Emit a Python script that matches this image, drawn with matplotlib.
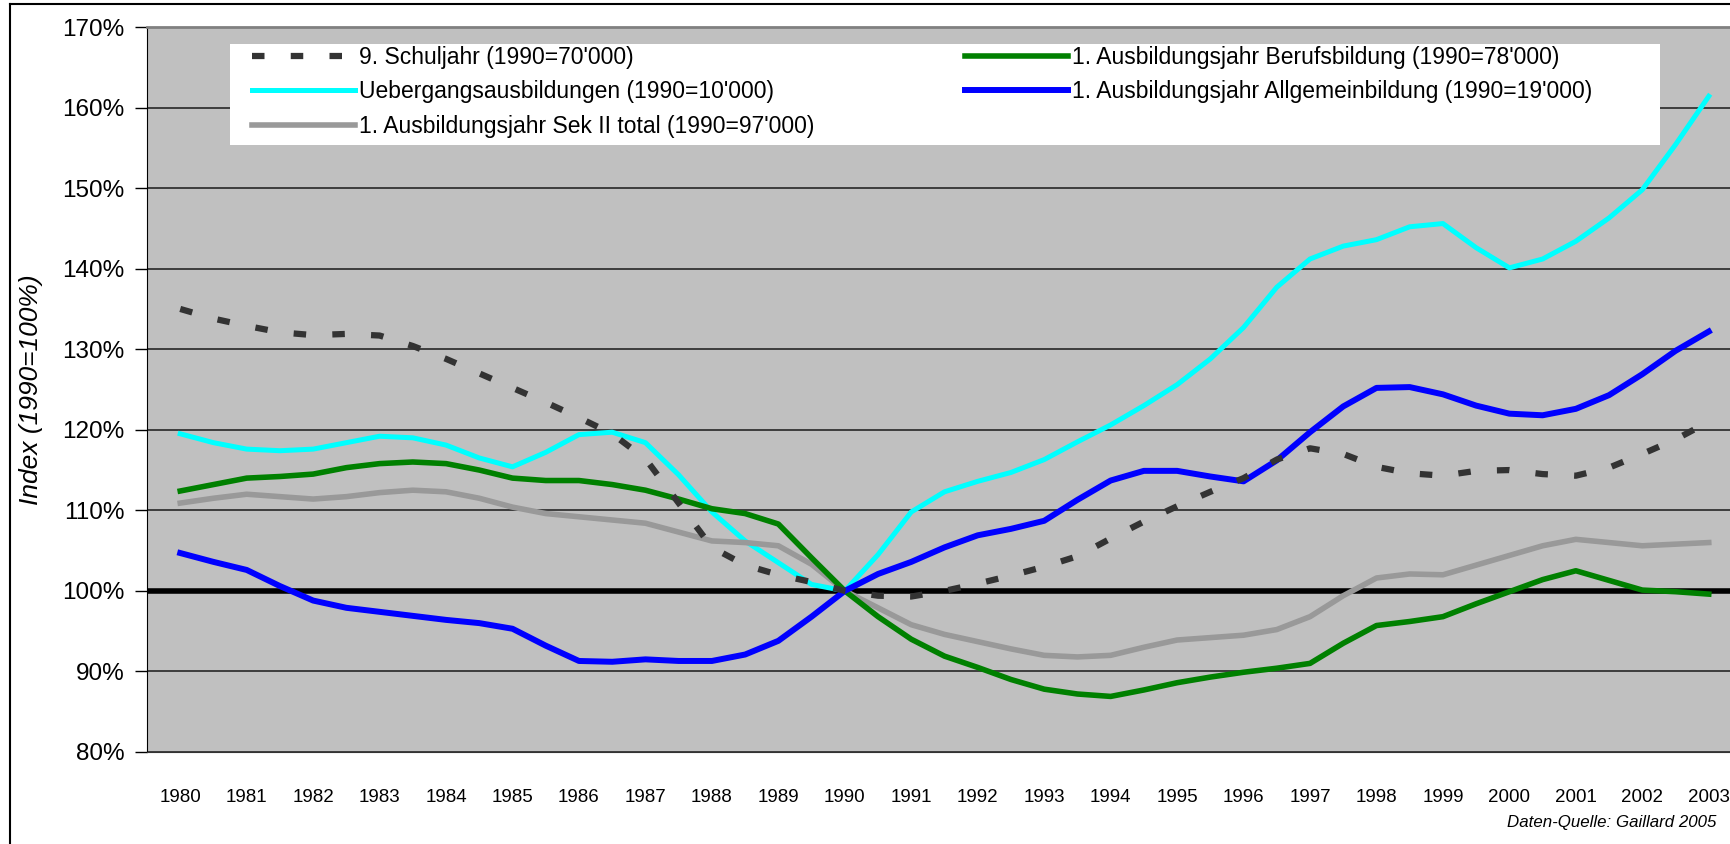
import numpy as np
import matplotlib
matplotlib.use("Agg")
import matplotlib.pyplot as plt
from matplotlib.lines import Line2D
from matplotlib.patches import Rectangle
from matplotlib.ticker import FuncFormatter

plt.rcParams['font.family'] = ['Liberation Sans', 'DejaVu Sans']

# Halbjahres-Stuetzpunkte 1980 - 2003
jahre = np.arange(1980, 2003.01, 0.5)

# Index 1990 = 100%
schuljahr9 = [135.0, 133.8, 132.9, 132.1, 131.75, 131.9, 131.7, 130.4, 128.8, 127.0,
              125.2, 123.4, 121.5, 119.5, 116.4, 110.9, 105.4, 103.2, 102.0, 101.1,
              100.0, 99.4, 99.3, 100.0, 100.9, 101.9, 103.0, 104.3, 106.5, 108.6,
              110.5, 112.3, 114.0, 116.3, 117.7, 117.0, 115.4, 114.6, 114.3, 114.9,
              115.0, 114.5, 114.3, 115.3, 117.0, 118.8, 121.0]
uebergang = [119.5, 118.4, 117.6, 117.4, 117.6, 118.4, 119.2, 119.0, 118.1, 116.5,
             115.4, 117.2, 119.4, 119.7, 118.4, 114.4, 109.8, 106.2, 103.5, 100.8,
             100.0, 104.5, 109.8, 112.3, 113.6, 114.7, 116.3, 118.5, 120.6, 123.0,
             125.6, 128.8, 132.7, 137.7, 141.2, 142.8, 143.6, 145.2, 145.6, 142.6,
             140.1, 141.2, 143.4, 146.3, 149.8, 155.4, 161.4]
sek2_total = [110.9, 111.5, 112.0, 111.7, 111.4, 111.7, 112.2, 112.5, 112.3, 111.5,
              110.4, 109.6, 109.2, 108.8, 108.4, 107.3, 106.2, 106.0, 105.6, 103.3,
              100.0, 97.9, 95.8, 94.6, 93.7, 92.8, 92.0, 91.8, 92.0, 93.0,
              93.9, 94.2, 94.5, 95.2, 96.8, 99.4, 101.6, 102.1, 102.0, 103.2,
              104.4, 105.6, 106.4, 106.0, 105.6, 105.8, 106.0]
berufsbildung = [112.4, 113.2, 114.0, 114.2, 114.5, 115.3, 115.8, 116.0, 115.8, 115.0,
                 114.0, 113.7, 113.7, 113.2, 112.5, 111.4, 110.2, 109.6, 108.3, 104.1,
                 100.0, 96.8, 94.0, 91.9, 90.5, 89.0, 87.8, 87.2, 86.9, 87.7,
                 88.6, 89.3, 89.9, 90.4, 91.0, 93.5, 95.7, 96.2, 96.8, 98.4,
                 99.9, 101.4, 102.5, 101.3, 100.1, 99.9, 99.6]
allgemeinbildung = [104.7, 103.6, 102.6, 100.6, 98.8, 97.9, 97.4, 96.9, 96.4, 96.0,
                    95.3, 93.2, 91.3, 91.2, 91.5, 91.3, 91.3, 92.1, 93.8, 96.8,
                    100.0, 102.1, 103.6, 105.4, 106.9, 107.7, 108.7, 111.3, 113.7, 114.9,
                    114.9, 114.2, 113.6, 116.2, 119.7, 122.9, 125.2, 125.3, 124.4, 123.0,
                    122.0, 121.8, 122.6, 124.3, 126.9, 129.8, 132.2]

labels = ["9. Schuljahr (1990=70'000)",
          "Uebergangsausbildungen (1990=10'000)",
          "1. Ausbildungsjahr Sek II total (1990=97'000)",
          "1. Ausbildungsjahr Berufsbildung (1990=78'000)",
          "1. Ausbildungsjahr Allgemeinbildung (1990=19'000)"]
tick_jahre = list(range(1980, 2004))
y_ticks = [80, 90, 100, 110, 120, 130, 140, 150, 160, 170]

W, H = 1731, 844
fig = plt.figure(figsize=(W / 100, H / 100), dpi=100)
ax = fig.add_axes([147 / W, 1 - 752 / H, 1595 / W, 725 / H])
ax.set_facecolor('#C0C0C0')

ax.set_xlim(1979.5, 2003.5)
ax.set_ylim(80, 170)
ax.set_yticks(y_ticks)
ax.yaxis.set_major_formatter(FuncFormatter(lambda v, p: '%d%%' % v))
ax.set_xticks(tick_jahre)
ax.set_xticklabels([str(j) for j in tick_jahre])
ax.tick_params(axis='y', labelsize=17.5, length=9, width=1, pad=7, direction='out')
ax.tick_params(axis='x', labelsize=13.5, length=0, pad=27)
ax.yaxis.grid(True, color='#333333', lw=1.3)
ax.set_axisbelow(True)
for s in ['top', 'right']:
    ax.spines[s].set_color('#808080')
    ax.spines[s].set_linewidth(2)
ax.spines['left'].set_color('black')
ax.spines['bottom'].set_color('#333333')

ax.axhline(100, color='black', lw=4, zorder=2)

lw = 4
l1, = ax.plot(jahre, schuljahr9, color='#333333', lw=4.5,
              linestyle=(0, (2, 4.2)), dash_capstyle='butt', zorder=4)
l2, = ax.plot(jahre, uebergang, color='#00FFFF', lw=3.6, zorder=3)
l3, = ax.plot(jahre, sek2_total, color='#999999', lw=lw, zorder=3)
l4, = ax.plot(jahre, berufsbildung, color='#008000', lw=lw, zorder=3)
l5, = ax.plot(jahre, allgemeinbildung, color='#0000FF', lw=4.3, zorder=3)

ax.set_ylabel('Index (1990=100%)', fontsize=19, style='italic')
ax.yaxis.set_label_coords(43 / W, 1 - 390 / H, transform=fig.transFigure)

# Legendenkasten
ax.add_patch(Rectangle((230 / W, 1 - 145 / H), 1430 / W, 101 / H,
                       transform=fig.transFigure, facecolor='white',
                       edgecolor='none', zorder=5, clip_on=False))
leg = ax.legend([l1, l2, l3, l4, l5], labels, ncol=2, frameon=False,
                fontsize=16.5, handlelength=4.5, handletextpad=0.15,
                columnspacing=6.6, labelspacing=0.5, borderpad=0,
                borderaxespad=0, loc='upper left',
                bbox_to_anchor=(252 / W, 1 - 46 / H),
                bbox_transform=fig.transFigure)
leg.set_zorder(6)

fig.text(1716 / W, 1 - 822 / H, 'Daten-Quelle: Gaillard 2005', fontsize=12.2,
         style='italic', ha='right', va='center')

# Rahmen
fig.add_artist(Line2D([10 / W, 1], [1 - 4 / H, 1 - 4 / H], color='black', lw=1.5))
fig.add_artist(Line2D([10 / W, 10 / W], [0, 1 - 4 / H], color='black', lw=1.5))

fig.savefig('out.png', dpi=100)
